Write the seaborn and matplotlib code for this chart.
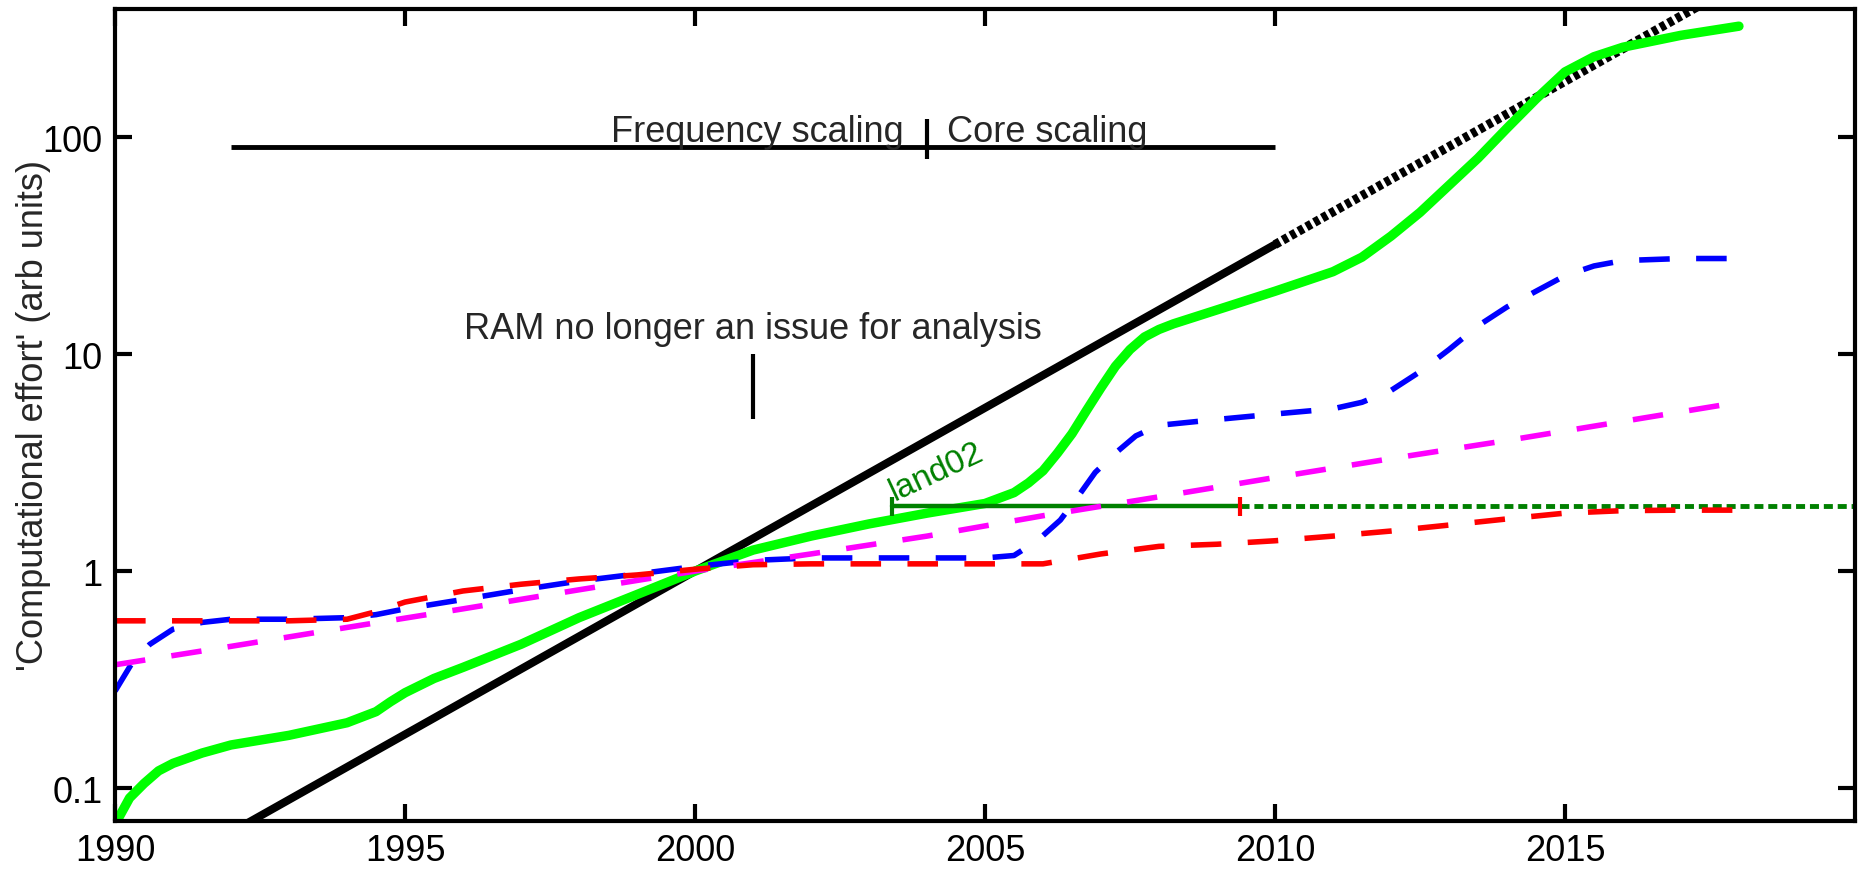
import matplotlib
matplotlib.use("Agg")
import matplotlib.pyplot as plt
import matplotlib.ticker as mticker
import seaborn as sns

# === Data ===
black_years = [1990, 2000, 2010]
black_vals = [0.03125, 1.0, 32.0]
black_proj_years = [2010, 2018]
black_proj_vals = [32.0, 512.0]

green_years = [1990.0, 1990.25, 1990.5, 1990.75, 1991.0, 1991.5, 1992.0, 1993.0, 1994.0, 1994.5,
               1994.75, 1995.0, 1995.5, 1996.0, 1997.0, 1998.0, 1999.0, 2000.0, 2001.0, 2002.0,
               2003.0, 2004.0, 2005.0, 2005.5, 2005.75, 2006.0, 2006.25, 2006.5, 2006.75, 2007.0,
               2007.25, 2007.5, 2007.75, 2008.0, 2008.25, 2009.0, 2010.0, 2011.0, 2011.5, 2012.0,
               2012.5, 2013.0, 2013.5, 2014.0, 2014.5, 2015.0, 2015.5, 2016.0, 2017.0, 2018.0]
green_vals = [0.068, 0.09, 0.105, 0.12, 0.13, 0.145, 0.158, 0.175, 0.2, 0.225,
              0.25, 0.275, 0.32, 0.36, 0.46, 0.61, 0.78, 1.0, 1.25, 1.45,
              1.65, 1.85, 2.05, 2.3, 2.55, 2.9, 3.5, 4.3, 5.5, 7.0,
              8.8, 10.5, 12.0, 13.0, 13.8, 16.0, 19.5, 24.0, 28.0, 35.0,
              45.0, 60.0, 80.0, 110.0, 150.0, 200.0, 235.0, 260.0, 295.0, 325.0]

blue_years = [1990.0, 1990.3, 1990.6, 1991.0, 1991.5, 1992, 1993, 1994, 1994.5, 1995,
              1996, 1997, 1998, 1999, 2000, 2001, 2002, 2003, 2004, 2005,
              2005.5, 2005.9, 2006.3, 2006.6, 2006.9, 2007.25, 2007.6, 2008, 2009, 2010,
              2011, 2011.5, 2012, 2012.5, 2013, 2013.5, 2014, 2014.5, 2015, 2015.5,
              2016, 2017, 2018]
blue_vals = [0.28, 0.38, 0.46, 0.54, 0.58, 0.6, 0.6, 0.61, 0.63, 0.67,
             0.74, 0.82, 0.9, 0.97, 1.05, 1.12, 1.15, 1.15, 1.15, 1.15,
             1.18, 1.38, 1.72, 2.2, 2.85, 3.5, 4.2, 4.7, 5.0, 5.3,
             5.6, 6.0, 6.8, 8.3, 10.5, 13.5, 16.5, 19.5, 23.0, 25.5,
             27.0, 27.6, 27.6]

red_years = [1990, 1991, 1992, 1993, 1994, 1994.5, 1995, 1996, 1997, 1998,
             1999, 2000, 2001, 2002, 2003, 2004, 2005, 2006, 2007, 2008,
             2009, 2010, 2011, 2012, 2013, 2014, 2015, 2016, 2017, 2018]
red_vals = [0.59, 0.59, 0.59, 0.59, 0.6, 0.65, 0.72, 0.81, 0.87, 0.92,
            0.96, 1.02, 1.07, 1.08, 1.08, 1.08, 1.08, 1.08, 1.2, 1.3,
            1.33, 1.38, 1.45, 1.53, 1.63, 1.74, 1.85, 1.9, 1.91, 1.91]

magenta_years = [1990, 1992, 1994, 1996, 1998, 2000, 2002, 2004, 2006, 2008,
                 2010, 2012, 2014, 2016, 2018]
magenta_vals = [0.37, 0.45, 0.55, 0.67, 0.82, 1.0, 1.2, 1.45, 1.8, 2.2,
                2.7, 3.3, 4.0, 4.9, 6.0]

land02_years = [2003.4, 2009.4]
land02_proj_years = [2009.4, 2020.0]
land02_val = 2.0

freq_span = [1992, 2010]
freq_level = 90
switch_year = 2004
ram_year = 2001

x_ticks = [1990, 1995, 2000, 2005, 2010, 2015]
y_ticks = [0.1, 1, 10, 100]
y_tick_labels = ["0.1", "1", "10", "100"]

# === Style ===
sns.set_style("ticks")
plt.rcParams.update({
    "font.family": ["Liberation Sans", "DejaVu Sans"],
    "font.size": 26,
    "lines.scale_dashes": False,
    "axes.linewidth": 3,
    "xtick.major.width": 3,
    "ytick.major.width": 3,
    "xtick.major.size": 12,
    "ytick.major.size": 12,
    "xtick.direction": "in",
    "ytick.direction": "in",
    "xtick.color": "black",
    "ytick.color": "black",
    "axes.edgecolor": "black",
})

fig = plt.figure(figsize=(18.62, 8.70), dpi=100)
ax = fig.add_axes([0.0618, 0.0552, 0.9344, 0.9333])
ax.set_yscale("log")

dash = (0, (22, 19))
common = dict(ax=ax, estimator=None, sort=False, legend=False)

sns.lineplot(x=black_years, y=black_vals, color="black", linewidth=5.8, **common)
sns.lineplot(x=black_proj_years, y=black_proj_vals, color="black", linewidth=6.5,
             linestyle=(0, (4, 2.5)), **common)
sns.lineplot(x=green_years, y=green_vals, color="#00ff00", linewidth=6.8, **common)

# land02 bar and projection
sns.lineplot(x=land02_years, y=[land02_val] * 2, color="#008000", linewidth=3.2, **common)
sns.lineplot(x=land02_proj_years, y=[land02_val] * 2, color="#008000", linewidth=3.5,
             linestyle=(0, (6.5, 3.5)), **common)
ax.vlines(land02_years[0], 1.8, 2.2, color="#008000", linewidth=3)
ax.vlines(land02_years[1], 1.8, 2.2, color="red", linewidth=3)

sns.lineplot(x=blue_years, y=blue_vals, color="blue", linewidth=4, linestyle=dash, **common)
sns.lineplot(x=magenta_years, y=magenta_vals, color="magenta", linewidth=4, linestyle=dash, **common)
sns.lineplot(x=red_years, y=red_vals, color="red", linewidth=4, linestyle=dash, **common)

# === Annotations ===
ax.hlines(freq_level, freq_span[0], freq_span[1], color="black", linewidth=3.5)
ax.vlines(switch_year, 79, 121, color="black", linewidth=3)
ax.text(switch_year - 0.4, 96, "Frequency scaling", ha="right", va="baseline", fontsize=26)
ax.text(switch_year + 0.35, 96, "Core scaling", ha="left", va="baseline", fontsize=26)

ax.vlines(ram_year, 5, 10, color="black", linewidth=3)
ax.text(ram_year, 11.9, "RAM no longer an issue for analysis", ha="center", va="baseline", fontsize=26)

ax.text(land02_years[0] + 0.05, 2.12, "land02", color="#008000", fontsize=24,
        rotation=25, rotation_mode="anchor", ha="left", va="baseline")

# === Axes ===
ax.set_xlim(1990, 2020)
ax.set_ylim(0.0705, 390)
ax.set_xticks(x_ticks)
ax.set_xticklabels([str(t) for t in x_ticks])
ax.set_yticks(y_ticks)
ax.set_yticklabels(y_tick_labels)
ax.yaxis.set_minor_locator(mticker.NullLocator())
ax.xaxis.set_minor_locator(mticker.NullLocator())
ax.tick_params(axis="both", which="major", top=True, right=True, labelsize=26)
ax.tick_params(axis="x", pad=9)
ax.tick_params(axis="y", pad=9)
for spine in ax.spines.values():
    spine.set_visible(True)
    spine.set_linewidth(3)

ax.set_xlabel("")
ax.set_ylabel("'Computational effort' (arb units)", fontsize=26)
ax.yaxis.set_label_coords(-0.037, 0.5)

fig.savefig("out.png", dpi=100)
plt.close(fig)
